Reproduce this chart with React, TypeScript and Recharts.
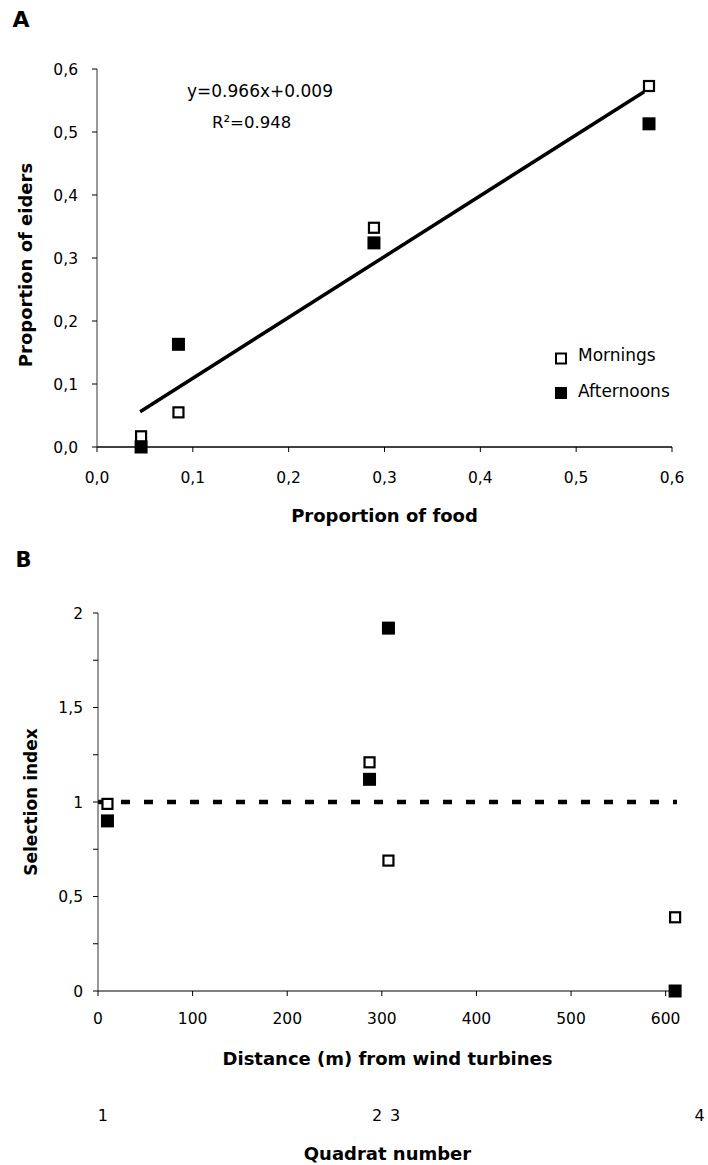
import React from 'react';
import { ScatterChart, Scatter, XAxis, YAxis, Legend, ReferenceLine, Label } from 'recharts';

// Panel A: proportion of food vs proportion of eiders
const foodA = [0.046, 0.085, 0.289, 0.576];
const eidersMorningA = [0.017, 0.055, 0.348, 0.573];
const eidersAfternoonA = [0.0, 0.163, 0.324, 0.513];
const trendFoodA = [0.045, 0.571];
const trendEidersA = [0.056, 0.564];
const xTicksA = [0, 0.1, 0.2, 0.3, 0.4, 0.5, 0.6];
const yTicksA = [0, 0.1, 0.2, 0.3, 0.4, 0.5, 0.6];
const seriesNames = ['Mornings', 'Afternoons'];

// Panel B: selection index vs distance from wind turbines
const distanceB = [10, 287, 307, 610];
const indexMorningB = [0.99, 1.21, 0.69, 0.39];
const indexAfternoonB = [0.9, 1.12, 1.92, 0.0];
const xTicksB = [0, 100, 200, 300, 400, 500, 600];
const yTicksB = [0, 0.25, 0.5, 0.75, 1, 1.25, 1.5, 1.75, 2];
const quadratPos = [5, 295, 314, 636];
const quadratLabels = ['1', '2', '3', '4'];

const FONT = "'DejaVu Sans', 'Liberation Sans', Arial, sans-serif";
const tickStyle = { fontSize: 15.5, fontFamily: FONT, fill: '#000' };
const titleStyle = { fontSize: 18, fontWeight: 700, fontFamily: FONT, fill: '#000' };

const comma = (v: number, d: number) => v.toFixed(d).replace('.', ',');

const toPoints = (xs: number[], ys: number[]) => xs.map((x, i) => ({ x, y: ys[i] }));

const OpenSquare = (props: any) => {
  const { cx, cy } = props;
  if (cx == null || cy == null) return <g />;
  return <rect x={cx - 5} y={cy - 5} width={10} height={10} fill="#fff" stroke="#000" strokeWidth={2.2} />;
};

const FilledSquare = (props: any) => {
  const { cx, cy } = props;
  if (cx == null || cy == null) return <g />;
  return <rect x={cx - 6.5} y={cy - 6.5} width={13} height={13} fill="#000" />;
};

const NoDot = () => <g />;

const SquareLegend = (props: any) => {
  const names = (props.payload || [])
    .map((p: any) => p.value)
    .filter((v: string) => seriesNames.includes(v))
    .sort((a: string, b: string) => seriesNames.indexOf(a) - seriesNames.indexOf(b));
  const list = names.length ? names : seriesNames;
  return (
    <svg width={168} height={72}>
      {list.map((name: string, i: number) => {
        const cy = 18.5 + i * 34.5;
        const open = name === 'Mornings';
        return (
          <g key={name}>
            {open ? (
              <rect x={16} y={cy - 5} width={10} height={10} fill="#fff" stroke="#000" strokeWidth={2} />
            ) : (
              <rect x={15} y={cy - 6} width={12} height={12} fill="#000" />
            )}
            <text x={38} y={20.5 + i * 36.5} fontSize={17} fontFamily={FONT} fill="#000">
              {name}
            </text>
          </g>
        );
      })}
    </svg>
  );
};

const ChartA = () => (
  <ScatterChart width={708} height={545} margin={{ top: 69, right: 36, bottom: 13, left: 0 }}>
    <XAxis
      type="number"
      dataKey="x"
      domain={[0, 0.6]}
      ticks={xTicksA}
      interval={0}
      tickFormatter={(v: number) => comma(v, 1)}
      height={85}
      tick={tickStyle}
      tickSize={5}
      tickMargin={20}
      axisLine={{ stroke: '#000', strokeWidth: 1.3 }}
      tickLine={{ stroke: '#000' }}
    >
      <Label value="Proportion of food" position="insideBottom" offset={10} style={titleStyle} />
    </XAxis>
    <YAxis
      type="number"
      dataKey="y"
      domain={[0, 0.6]}
      ticks={yTicksA}
      interval={0}
      tickFormatter={(v: number) => comma(v, 1)}
      width={97}
      tick={tickStyle}
      tickSize={5}
      tickMargin={14}
      axisLine={{ stroke: '#333', strokeWidth: 1 }}
      tickLine={{ stroke: '#000' }}
    >
      <Label
        value="Proportion of eiders"
        angle={-90}
        position="insideLeft"
        offset={25.5}
        dy={7}
        style={{ ...titleStyle, textAnchor: 'middle' }}
      />
    </YAxis>
    <Scatter
      name="trend"
      data={toPoints(trendFoodA, trendEidersA)}
      line={{ stroke: '#000', strokeWidth: 3.5 }}
      shape={NoDot}
      legendType="none"
      isAnimationActive={false}
    />
    <Scatter name="Afternoons" data={toPoints(foodA, eidersAfternoonA)} fill="#000" shape={FilledSquare} isAnimationActive={false} />
    <Scatter name="Mornings" data={toPoints(foodA, eidersMorningA)} fill="#fff" shape={OpenSquare} isAnimationActive={false} />
    <Legend
      layout="vertical"
      align="center"
      verticalAlign="middle"
      content={SquareLegend}
      wrapperStyle={{ left: 540, top: 340, width: 168, height: 72 }}
    />
  </ScatterChart>
);

const ChartB = () => (
  <ScatterChart width={708} height={620} margin={{ top: 68, right: 31, bottom: 0, left: 0 }}>
    <XAxis
      type="number"
      dataKey="x"
      domain={[0, 612]}
      ticks={xTicksB}
      interval={0}
      height={85}
      tick={tickStyle}
      tickSize={5}
      tickMargin={17}
      axisLine={{ stroke: '#000', strokeWidth: 1 }}
      tickLine={{ stroke: '#000' }}
    >
      <Label value="Distance (m) from wind turbines" position="insideBottom" offset={11} style={titleStyle} />
    </XAxis>
    <XAxis
      xAxisId="q"
      type="number"
      dataKey="x"
      domain={[0, 612]}
      allowDataOverflow
      ticks={quadratPos}
      interval={0}
      tickFormatter={(v: number) => quadratLabels[quadratPos.indexOf(v)]}
      height={89}
      tick={{ ...tickStyle, fontSize: 16 }}
      tickSize={0}
      tickMargin={34}
      axisLine={false}
      tickLine={false}
    >
      <Label value="Quadrat number" position="insideBottom" offset={5} style={titleStyle} />
    </XAxis>
    <YAxis
      type="number"
      dataKey="y"
      domain={[0, 2]}
      ticks={yTicksB}
      interval={0}
      tickFormatter={(v: number) => ((v * 2) % 1 === 0 ? (Number.isInteger(v) ? String(v) : comma(v, 1)) : '')}
      width={98}
      tick={tickStyle}
      tickSize={5}
      tickMargin={10}
      axisLine={{ stroke: '#333', strokeWidth: 1 }}
      tickLine={{ stroke: '#000' }}
    >
      <Label
        value="Selection index"
        angle={-90}
        position="insideLeft"
        offset={31}
        style={{ ...titleStyle, fontSize: 17, textAnchor: 'middle' }}
      />
    </YAxis>
    <ReferenceLine y={1} stroke="#000" strokeWidth={4.5} strokeDasharray="9 14" />
    {/* quadrat positions: carries the secondary axis, draws no marks */}
    <Scatter
      name="quadrats"
      xAxisId="q"
      data={quadratPos.map((x) => ({ x, y: 0 }))}
      shape={NoDot}
      legendType="none"
      isAnimationActive={false}
    />
    <Scatter name="Afternoons" data={toPoints(distanceB, indexAfternoonB)} fill="#000" shape={FilledSquare} isAnimationActive={false} />
    <Scatter name="Mornings" data={toPoints(distanceB, indexMorningB)} fill="#fff" shape={OpenSquare} isAnimationActive={false} />
  </ScatterChart>
);

export default function App() {
  return (
    <div style={{ position: 'absolute', left: 0, top: 0, width: 708, height: 1165, background: '#fff', overflow: 'hidden' }}>
      <div style={{ position: 'absolute', left: 0, top: 0 }}>
        <ChartA />
      </div>
      <div style={{ position: 'absolute', left: 0, top: 545 }}>
        <ChartB />
      </div>
      <svg width={708} height={1165} style={{ position: 'absolute', left: 0, top: 0, pointerEvents: 'none' }}>
        <text x={12.5} y={26.5} fontSize={22} fontWeight={700} fontFamily={FONT} fill="#000">A</text>
        <text x={15.5} y={566.5} fontSize={21} fontWeight={700} fontFamily={FONT} fill="#000">B</text>
        <text x={187} y={96.7} fontSize={17} fontFamily={FONT} fill="#000">y=0.966x+0.009</text>
        <text x={212} y={127.7} fontSize={16.5} fontFamily={FONT} fill="#000">R²=0.948</text>
      </svg>
    </div>
  );
}
